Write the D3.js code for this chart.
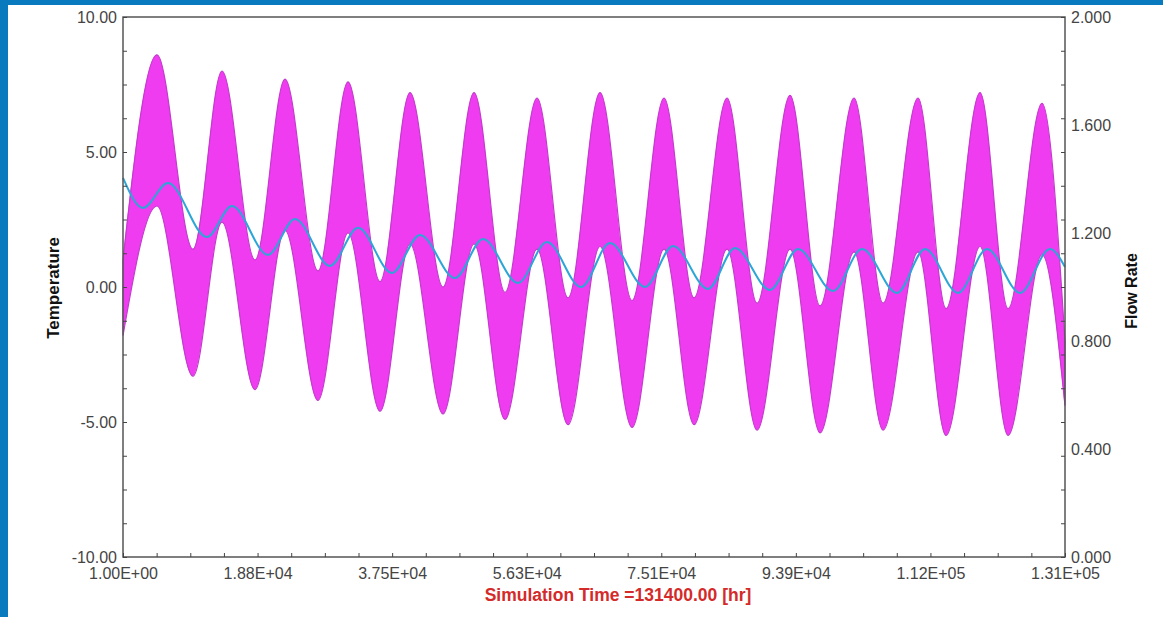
<!DOCTYPE html>
<html>
<head>
<meta charset="utf-8">
<script src="https://cdn.jsdelivr.net/npm/d3@7"></script>
<style>
  html, body { margin: 0; padding: 0; background: #fff; }
  svg { display: block; font-family: "Liberation Sans", Arial, sans-serif; }
</style>
</head>
<body>
<script>
// Axis ticks and labels
const timeTicks = [1, 18772, 37543, 56314, 75086, 93857, 112629, 131400];
const timeTickLabels = ["1.00E+00", "1.88E+04", "3.75E+04", "5.63E+04", "7.51E+04", "9.39E+04", "1.12E+05", "1.31E+05"];
const tempTicks = [-10, -5, 0, 5, 10];
const tempTickLabels = ["-10.00", "-5.00", "0.00", "5.00", "10.00"];
const flowTicks = [0, 0.4, 0.8, 1.2, 1.6, 2.0];
const flowTickLabels = ["0.000", "0.400", "0.800", "1.200", "1.600", "2.000"];

// Temperature trace (hours): yearly peaks and troughs of the band
const tempEdgeTime = [1, 131400];
const tempEdgeTop = [1.0, -2.0];
const tempEdgeBottom = [-1.8, -4.4];
const tempPeakTime = [4743, 13811, 22599, 31388, 40037, 48965, 57753, 66542, 75470, 84258, 93047, 101975, 110903, 119552, 128201];
const tempPeakTop = [8.6, 8.0, 7.7, 7.6, 7.2, 7.2, 7.0, 7.2, 7.0, 7.0, 7.1, 7.0, 7.0, 7.2, 6.8];
const tempPeakBottom = [3.0, 2.4, 2.1, 2.0, 1.6, 1.6, 1.4, 1.5, 1.4, 1.4, 1.4, 1.3, 1.3, 1.5, 1.2];
const tempTroughTime = [9765, 18414, 27203, 35852, 44640, 53289, 62078, 71006, 79655, 88443, 97232, 106020, 114809, 123458];
const tempTroughBottom = [-3.3, -3.8, -4.2, -4.6, -4.7, -4.9, -5.1, -5.2, -5.1, -5.3, -5.4, -5.3, -5.5, -5.5];
const tempTroughTop = [1.4, 1.0, 0.6, 0.2, 0.0, -0.2, -0.4, -0.5, -0.4, -0.6, -0.7, -0.6, -0.8, -0.8];

// Flow rate trace (hours): turning points
const flowTime = [1, 2790, 6277, 11718, 15205, 20227, 23994, 28876, 32782, 37525, 41431, 46314, 50220, 55102, 59148, 63891,
  67936, 72819, 76725, 81607, 85374, 90256, 94162, 99045, 103090, 107973, 111879, 116482, 120528, 125131, 129316, 131400];
const flowValue = [1.404, 1.293, 1.385, 1.185, 1.300, 1.119, 1.252, 1.078, 1.219, 1.052, 1.193, 1.033, 1.178, 1.015, 1.167, 1.000,
  1.163, 1.000, 1.152, 0.993, 1.144, 0.989, 1.141, 0.985, 1.141, 0.978, 1.141, 0.978, 1.141, 0.978, 1.141, 1.074];

const W = 1163, H = 617;
const margin = { top: 17, right: 98, bottom: 60, left: 123 };
const width = W - margin.left - margin.right;
const height = H - margin.top - margin.bottom;

const svg = d3.select("body").append("svg")
  .attr("width", W)
  .attr("height", H);

// blue window frame
svg.append("rect").attr("x", 0).attr("y", 0).attr("width", W).attr("height", 5).attr("fill", "#0a7abf");
svg.append("rect").attr("x", 0).attr("y", 0).attr("width", 8).attr("height", H).attr("fill", "#0a7abf");

const g = svg.append("g").attr("transform", `translate(${margin.left},${margin.top})`);

const x = d3.scaleLinear().domain([1, 131400]).range([0, width]);
const yT = d3.scaleLinear().domain([-10, 10]).range([height, 0]);
const yF = d3.scaleLinear().domain([0, 2]).range([height, 0]);

// temperature band
const tempPts = [];
tempEdgeTime.forEach((t, i) => tempPts.push({ t, hi: tempEdgeTop[i], lo: tempEdgeBottom[i] }));
tempPeakTime.forEach((t, i) => tempPts.push({ t, hi: tempPeakTop[i], lo: tempPeakBottom[i] }));
tempTroughTime.forEach((t, i) => tempPts.push({ t, hi: tempTroughTop[i], lo: tempTroughBottom[i] }));
tempPts.sort((a, b) => a.t - b.t);

const band = d3.area()
  .x(d => x(d.t))
  .y0(d => yT(d.lo))
  .y1(d => yT(d.hi))
  .curve(d3.curveMonotoneX);

g.append("path")
  .datum(tempPts)
  .attr("fill", "#f03cf0")
  .attr("stroke", "#c23ccc")
  .attr("stroke-width", 1.2)
  .attr("d", band);

// flow rate
const flowPts = flowTime.map((t, i) => ({ t, v: flowValue[i] }));
g.append("path")
  .datum(flowPts)
  .attr("fill", "none")
  .attr("stroke", "#2ba6d6")
  .attr("stroke-width", 2)
  .attr("d", d3.line().x(d => x(d.t)).y(d => yF(d.v)).curve(d3.curveMonotoneX));

// frame
g.append("rect")
  .attr("width", width).attr("height", height)
  .attr("fill", "none").attr("stroke", "#555").attr("stroke-width", 1.5);

// axes with inside ticks
const minorT = d3.range(-10, 10.01, 1.25);
const minorX = d3.range(0, 29).map(i => 1 + i * (131399 / 28));

function styleAxis(sel) {
  sel.select(".domain").remove();
  sel.selectAll(".tick line").attr("stroke", "#444");
  sel.selectAll("text").attr("fill", "#444").style("font-size", "16px");
}

g.append("g")
  .call(d3.axisLeft(yT).tickValues(minorT).tickSize(-4).tickFormat(""))
  .call(styleAxis);
g.append("g")
  .call(d3.axisLeft(yT).tickValues(tempTicks).tickSize(0).tickPadding(6)
    .tickFormat((d, i) => tempTickLabels[i]))
  .call(styleAxis);

g.append("g")
  .attr("transform", `translate(${width},0)`)
  .call(d3.axisRight(yT).tickValues(minorT).tickSize(-4).tickFormat(""))
  .call(styleAxis);
g.append("g")
  .attr("transform", `translate(${width},0)`)
  .call(d3.axisRight(yF).tickValues(flowTicks).tickSize(0).tickPadding(6)
    .tickFormat((d, i) => flowTickLabels[i]))
  .call(styleAxis);

g.append("g")
  .attr("transform", `translate(0,${height})`)
  .call(d3.axisBottom(x).tickValues(minorX).tickSize(-4).tickFormat(""))
  .call(styleAxis);
g.append("g")
  .attr("transform", `translate(0,${height})`)
  .call(d3.axisBottom(x).tickValues(timeTicks).tickSize(0).tickPadding(11)
    .tickFormat((d, i) => timeTickLabels[i]))
  .call(styleAxis);

// titles
svg.append("text")
  .attr("transform", "translate(53,288) rotate(-90)")
  .attr("text-anchor", "middle").attr("dy", "0.35em")
  .style("font-size", "17px").style("font-weight", "bold").attr("fill", "#111")
  .text("Temperature");
svg.append("text")
  .attr("transform", "translate(1131,291) rotate(-90)")
  .attr("text-anchor", "middle").attr("dy", "0.35em")
  .style("font-size", "16px").style("font-weight", "bold").attr("fill", "#111")
  .text("Flow Rate");
svg.append("text")
  .attr("x", 618).attr("y", 595)
  .attr("text-anchor", "middle").attr("dy", "0.35em")
  .style("font-size", "17.5px").style("font-weight", "bold").attr("fill", "#d42a2a")
  .text("Simulation Time =131400.00 [hr]");
</script>
</body>
</html>
